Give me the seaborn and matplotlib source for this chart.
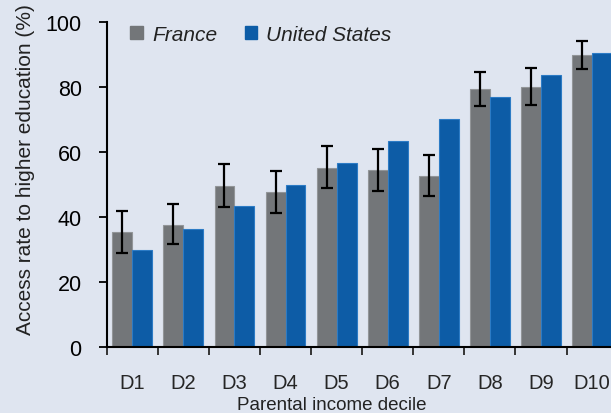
import numpy as np
import pandas as pd
import matplotlib
matplotlib.use("Agg")
import matplotlib.pyplot as plt
from matplotlib.patches import Patch
import seaborn as sns

deciles = ["D1", "D2", "D3", "D4", "D5", "D6", "D7", "D8", "D9", "D10"]
france = [35.3, 37.6, 49.6, 47.6, 55.1, 54.5, 52.7, 79.4, 80.1, 89.8]
france_low = [28.9, 31.6, 43.1, 41.3, 48.8, 48.1, 46.4, 74.3, 74.5, 85.5]
france_high = [41.7, 44.0, 56.3, 54.1, 61.8, 61.0, 59.2, 84.7, 85.8, 94.1]
us = [29.7, 36.4, 43.3, 49.9, 56.7, 63.4, 70.2, 77.0, 83.6, 90.5]

BG = "#dfe5f0"
GREY = "#737679"
BLUE = "#0d5ca6"

df = pd.DataFrame({
    "decile": deciles * 2,
    "country": ["France"] * 10 + ["United States"] * 10,
    "rate": france + us,
})

sns.set_theme(style="ticks")
plt.rcParams["font.family"] = ["Liberation Sans", "DejaVu Sans"]

fig = plt.figure(figsize=(6.11, 4.14), dpi=100, facecolor=BG)
ax = fig.add_axes([0.1746, 0.1594, 0.8254, 0.785])
ax.set_facecolor(BG)

sns.barplot(data=df, x="decile", y="rate", hue="country", order=deciles,
            palette={"France": GREY, "United States": BLUE}, width=0.78,
            errorbar=None, saturation=1, ax=ax, legend=False)

for p in ax.patches:
    fc = p.get_facecolor()
    p.set_edgecolor(tuple(min(1, c + 0.12) for c in fc[:3]))
    p.set_linewidth(0.8)

# error bars on the France bars (first hue level)
fr_bars = ax.containers[0]
xs = [b.get_x() + b.get_width() / 2 for b in fr_bars]
yerr = [np.subtract(france, france_low), np.subtract(france_high, france)]
ax.errorbar(xs, france, yerr=yerr, fmt="none", ecolor="black",
            elinewidth=1.6, capsize=4.2, capthick=1.6, zorder=5)

ax.set_ylim(0, 100)
ax.set_xlim(-0.5, -0.5 + (611 - 106.7) / 51.1)
ax.set_yticks([0, 20, 40, 60, 80, 100])
ax.tick_params(axis="y", length=6, width=1.3, labelsize=15.5, pad=12, colors="black")
ax.set_xticks(range(10))
ax.set_xticklabels(deciles)
ax.tick_params(axis="x", which="major", length=0, labelsize=14.5, pad=19)
ax.set_xticks(np.arange(-0.5, 9.0, 1.0), minor=True)
ax.tick_params(axis="x", which="minor", length=6, width=1.3, direction="out")

for s in ["top", "right"]:
    ax.spines[s].set_visible(False)
for s in ["left", "bottom"]:
    ax.spines[s].set_linewidth(1.5)
    ax.spines[s].set_color("black")

ax.set_ylabel("Access rate to higher education (%)", fontsize=15, color="#222222")
ax.yaxis.set_label_coords(-0.142, 0.548)
ax.set_xlabel("Parental income decile", fontsize=13.5, color="#222222", labelpad=0)
ax.xaxis.set_label_coords(0.447, -0.152)

# legend
handles = [Patch(facecolor=GREY, edgecolor=GREY), Patch(facecolor=BLUE, edgecolor=BLUE)]
leg = ax.legend(handles, ["France", "United States"], ncol=2, loc="upper left",
                bbox_to_anchor=(0.01, 1.05), frameon=False, handlelength=0.6,
                handleheight=0.6, handletextpad=0.45, columnspacing=1.3,
                prop={"style": "italic", "size": 15})
for t in leg.get_texts():
    t.set_color("#222222")

fig.savefig("out.png", dpi=100, facecolor=BG)
